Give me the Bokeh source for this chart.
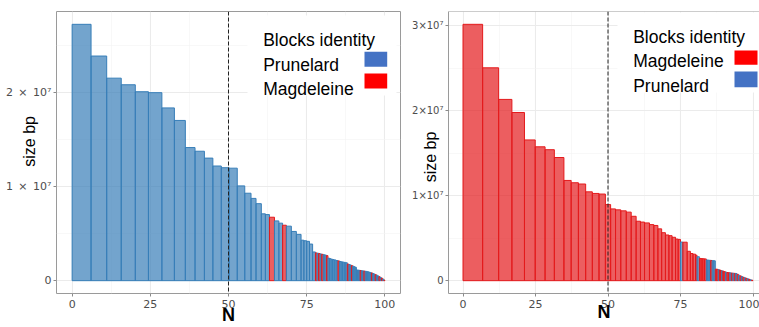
from bokeh.plotting import figure
from bokeh.layouts import row
from bokeh.models import Range1d, FixedTicker, Span, Label, BoxAnnotation, ColumnDataSource
from bokeh.embed import file_html
from bokeh.resources import INLINE

# ---------------- data ----------------
# Left panel (Prunelard blocks sorted by size): cumulative % at end of each block, size (Mb), identity
left_n_end = [6.05, 11.05, 15.7, 20.2, 24.4, 28.7, 32.7, 36.2, 39.3, 42.3, 45.0, 47.7, 50.2, 52.8,
              55.2, 57.2, 58.8, 60.5, 61.8, 63.1, 64.7, 66.1, 67.3, 68.5, 70.1, 71.7, 73.2, 74.1,
              75.0, 75.9, 76.9, 77.8, 78.3, 78.8, 79.3, 79.8, 80.3, 80.8, 81.3, 81.8, 82.3, 82.8,
              83.3, 83.8, 84.4, 85.0, 85.5, 86.0, 86.5, 87.0, 87.5, 88.0, 88.5, 88.9, 89.3, 89.7,
              90.1, 90.5, 90.9, 91.3, 91.7, 92.1, 92.5, 92.9, 93.3, 93.7, 94.1, 94.5, 94.9, 95.3,
              95.7, 96.1, 96.5, 96.9, 97.3, 97.7, 98.1, 98.5, 98.9, 99.3, 99.7, 100.0]
left_size_mb = [27.23, 23.86, 21.51, 20.81, 20.07, 19.97, 18.35, 17.02, 14.14, 13.75, 13.02, 12.18, 12.00, 11.95,
                10.07, 9.29, 8.74, 8.18, 7.10, 7.02, 6.74, 6.35, 6.11, 5.89, 5.79, 5.23, 4.92, 4.30,
                4.24, 4.18, 3.89, 3.05, 2.95, 2.92, 2.88, 2.84, 2.80, 2.76, 2.72, 2.66, 2.40, 2.34,
                2.28, 2.24, 2.20, 2.14, 2.10, 2.04, 2.00, 1.97, 1.94, 1.90, 1.76, 1.72, 1.66, 1.60,
                1.54, 1.48, 1.42, 1.14, 1.12, 1.10, 1.08, 1.06, 1.04, 1.02, 1.00, 0.98, 0.94, 0.90,
                0.86, 0.82, 0.76, 0.70, 0.64, 0.58, 0.50, 0.42, 0.34, 0.26, 0.16, 0.06]
left_identity = (["Prunelard"] * 20 + ["Magdeleine", "Prunelard", "Prunelard", "Magdeleine"] + ["Prunelard"] * 8
                 + ["Magdeleine", "Prunelard", "Magdeleine", "Prunelard", "Magdeleine", "Prunelard", "Prunelard", "Magdeleine",
                    "Prunelard", "Prunelard", "Prunelard", "Prunelard", "Prunelard", "Prunelard", "Magdeleine", "Prunelard",
                    "Prunelard", "Prunelard", "Prunelard", "Prunelard", "Magdeleine", "Prunelard", "Prunelard", "Magdeleine",
                    "Prunelard", "Prunelard", "Prunelard", "Prunelard", "Prunelard", "Prunelard", "Magdeleine", "Prunelard",
                    "Prunelard", "Magdeleine", "Prunelard", "Prunelard", "Prunelard", "Prunelard", "Prunelard", "Magdeleine",
                    "Prunelard", "Prunelard", "Magdeleine", "Prunelard", "Prunelard", "Magdeleine", "Prunelard", "Magdeleine",
                    "Prunelard", "Magdeleine"])

# Right panel (Magdeleine blocks sorted by size)
right_n_end = [6.77, 12.28, 16.86, 21.2, 24.9, 28.3, 31.5, 34.8, 37.3, 39.8, 42.3, 44.6, 46.9, 49.1,
               50.9, 52.6, 54.4, 56.3, 58.0, 59.7, 61.2, 62.6, 64.3, 65.8, 67.2, 68.5, 69.8, 71.0,
               72.1, 73.3, 74.2, 75.0, 75.8, 77.3, 78.4, 79.3, 80.2, 80.7, 81.5, 82.1, 82.7, 83.3,
               83.9, 84.4, 84.9, 85.4, 85.9, 86.5, 87.0, 87.5, 88.0, 88.4, 88.8, 89.2, 89.6, 90.0,
               90.5, 91.0, 91.5, 92.0, 92.5, 93.0, 93.5, 94.0, 94.5, 95.0, 95.5, 96.0, 96.5, 97.0,
               97.5, 98.0, 98.5, 99.0, 99.5, 100.0]
right_size_mb = [30.18, 25.06, 21.34, 19.80, 16.57, 15.76, 15.42, 14.50, 11.80, 11.53, 11.38, 10.46, 10.27, 10.20,
                 8.96, 8.45, 8.34, 8.22, 8.07, 7.58, 7.00, 6.90, 6.80, 6.60, 6.50, 6.10, 5.65, 5.38,
                 5.30, 5.11, 4.90, 4.86, 4.55, 4.53, 3.46, 3.20, 3.12, 3.00, 2.82, 2.62, 2.60, 2.58,
                 2.56, 2.44, 2.42, 2.40, 2.38, 2.36, 2.34, 1.36, 1.34, 1.30, 1.26, 1.20, 1.16, 1.12,
                 1.06, 1.00, 0.96, 0.94, 0.92, 0.90, 0.88, 0.86, 0.84, 0.74, 0.64, 0.56, 0.48, 0.40,
                 0.34, 0.28, 0.22, 0.16, 0.10, 0.05]
right_identity = (["Magdeleine"] * 32
                  + ["Prunelard", "Magdeleine", "Magdeleine", "Magdeleine", "Magdeleine", "Magdeleine", "Prunelard", "Magdeleine",
                     "Magdeleine", "Magdeleine", "Magdeleine", "Prunelard", "Prunelard", "Prunelard", "Magdeleine", "Prunelard",
                     "Prunelard", "Magdeleine", "Magdeleine", "Prunelard", "Magdeleine", "Magdeleine", "Prunelard", "Magdeleine",
                     "Magdeleine", "Prunelard", "Magdeleine", "Magdeleine", "Prunelard", "Magdeleine", "Prunelard", "Magdeleine",
                     "Prunelard", "Magdeleine", "Prunelard", "Magdeleine", "Prunelard", "Magdeleine", "Prunelard", "Magdeleine",
                     "Prunelard", "Magdeleine", "Prunelard", "Magdeleine"])

x_ticks = [0, 25, 50, 75, 100]
x_minor_ticks = [12.5, 37.5, 62.5, 87.5]
left_y_ticks = [0, 1e7, 2e7]
left_y_labels = ["0", "1\u2002×\u200210⁷", "2\u2002×\u200210⁷"]
right_y_ticks = [0, 1e7, 2e7, 3e7]
right_y_labels = ["0", "1×10⁷", "2×10⁷", "3×10⁷"]
y_minor_ticks = [0.5e7, 1.5e7, 2.5e7]

left_legend = ["Prunelard", "Magdeleine"]
right_legend = ["Magdeleine", "Prunelard"]

bar_colors = {"Prunelard": "#377EB8", "Magdeleine": "#E41A1C"}
swatch_colors = {"Prunelard": "#4472C4", "Magdeleine": "#FF0000"}

assert len(left_n_end) == len(left_size_mb) == len(left_identity)
assert len(right_n_end) == len(right_size_mb) == len(right_identity)

SANS = "Liberation Sans"
TICKF = "DejaVu Sans"
NB = "\u00a0"


def make_panel(n_end, size_mb, identity, y_ticks, y_labels, y_tick_size, legend_order, width,
               border_left, border_right, border_top, border_bottom, x_end, full_outline,
               ylab_text, ylab_standoff, xlab_standoff, legend_box, legend_text_x, legend_baselines,
               swatch_x, swatch_ys):
    sizes = [s * 1e6 for s in size_mb]
    lefts = [0.0] + list(n_end[:-1])
    ymax = max(sizes)
    src = ColumnDataSource(dict(left=lefts, right=list(n_end), top=sizes,
                                color=[bar_colors[i] for i in identity]))
    p = figure(width=width, height=327, output_backend="svg", toolbar_location=None,
               x_range=Range1d(-5, x_end), y_range=Range1d(-0.05 * ymax, 1.05 * ymax),
               min_border_left=border_left, min_border_right=border_right,
               min_border_top=border_top, min_border_bottom=border_bottom,
               background_fill_color="white", border_fill_color="white")
    p.quad(left="left", right="right", bottom=0, top="top", source=src,
           fill_color="color", fill_alpha=0.7, line_color="color", line_width=1)

    p.xaxis.ticker = FixedTicker(ticks=x_ticks, minor_ticks=x_minor_ticks)
    p.yaxis.ticker = FixedTicker(ticks=y_ticks, minor_ticks=y_minor_ticks)
    p.yaxis.major_label_overrides = {float(t): l for t, l in zip(y_ticks, y_labels)}
    for ax in (p.xaxis, p.yaxis):
        ax.major_label_text_font = TICKF
        ax.major_label_text_color = "#4D4D4D"
        ax.major_tick_in = 0
        ax.major_tick_out = 3
        ax.major_tick_line_color = "#8a8a8a"
        ax.minor_tick_line_color = None
    p.xaxis.major_label_text_font_size = "11px"
    p.yaxis.major_label_text_font_size = y_tick_size
    p.xaxis.major_label_standoff = 2
    p.yaxis.major_label_standoff = 1

    p.yaxis.axis_label = ylab_text
    p.yaxis.axis_label_text_font = SANS
    p.yaxis.axis_label_text_font_size = "16px"
    p.yaxis.axis_label_text_font_style = "normal"
    p.yaxis.axis_label_text_color = "black"
    p.yaxis.axis_label_standoff = ylab_standoff

    p.xaxis.axis_label = "N"
    p.xaxis.axis_label_text_font = SANS
    p.xaxis.axis_label_text_font_size = "18px"
    p.xaxis.axis_label_text_font_style = "bold"
    p.xaxis.axis_label_text_color = "black"
    p.xaxis.axis_label_standoff = xlab_standoff

    p.grid.grid_line_color = "#EBEBEB"
    p.grid.grid_line_width = 1.1
    p.grid.minor_grid_line_color = "#F4F4F4"
    p.grid.minor_grid_line_width = 0.6

    if full_outline:
        p.outline_line_color = "#9a9a9a"
        p.outline_line_width = 1
        p.axis.axis_line_color = None
    else:
        p.outline_line_color = None
        p.axis.axis_line_color = "#9a9a9a"
        p.add_layout(Span(location=1.05 * ymax, dimension="width", line_color="#9a9a9a", line_width=1))

    p.add_layout(Span(location=50, dimension="height", line_color="#222222",
                      line_dash="4 2", line_width=1))

    # legend (screen units relative to the frame's bottom-left corner)
    l, r, t, b = legend_box
    p.add_layout(BoxAnnotation(left=l, right=r, top=t, bottom=b, left_units="screen",
                               right_units="screen", top_units="screen", bottom_units="screen",
                               fill_color="white", fill_alpha=1, line_color=None))
    p.add_layout(Label(x=legend_text_x, y=legend_baselines[0], x_units="screen", y_units="screen",
                       text="Blocks identity", text_baseline="alphabetic", text_font=SANS,
                       text_font_size="17.5px", text_color="black"))
    for name, yb, (st, sb) in zip(legend_order, legend_baselines[1:], swatch_ys):
        p.add_layout(Label(x=legend_text_x, y=yb, x_units="screen", y_units="screen",
                           text=name, text_baseline="alphabetic", text_font=SANS,
                           text_font_size="17.5px", text_color="black"))
        p.add_layout(BoxAnnotation(left=swatch_x[0], right=swatch_x[1], top=st, bottom=sb,
                                   left_units="screen", right_units="screen", top_units="screen",
                                   bottom_units="screen", fill_color=swatch_colors[name],
                                   fill_alpha=1, line_color=None))
    return p


# left frame: x 56..400, y 11..295
left = make_panel(left_n_end, left_size_mb, left_identity, left_y_ticks, left_y_labels, "11px", left_legend,
                  width=404, border_left=56, border_right=4, border_top=11, border_bottom=32, x_end=105,
                  full_outline=True, ylab_text=NB * 5 + "size bp", ylab_standoff=-35, xlab_standoff=-6,
                  legend_box=(191, 340, 278, 198), legend_text_x=206.7,
                  legend_baselines=[254, 228.5, 205],
                  swatch_x=(308, 330.7), swatch_ys=[(241.7, 226.7), (220, 205)])

# right frame: x 448..(767 cut at window edge), y 10..298
right = make_panel(right_n_end, right_size_mb, right_identity, right_y_ticks, right_y_labels, "10px", right_legend,
                   width=355, border_left=44, border_right=0, border_top=10, border_bottom=29, x_end=102.24,
                   full_outline=False, ylab_text="size bp" + NB * 2, ylab_standoff=-30, xlab_standoff=-9,
                   legend_box=(169, 330, 281, 201), legend_text_x=184.7,
                   legend_baselines=[257, 233, 207.3],
                   swatch_x=(286, 309), swatch_ys=[(243, 228.7), (222, 206.3)])

layout = row(left, right)
open("out.html", "w").write(file_html(layout, INLINE))
